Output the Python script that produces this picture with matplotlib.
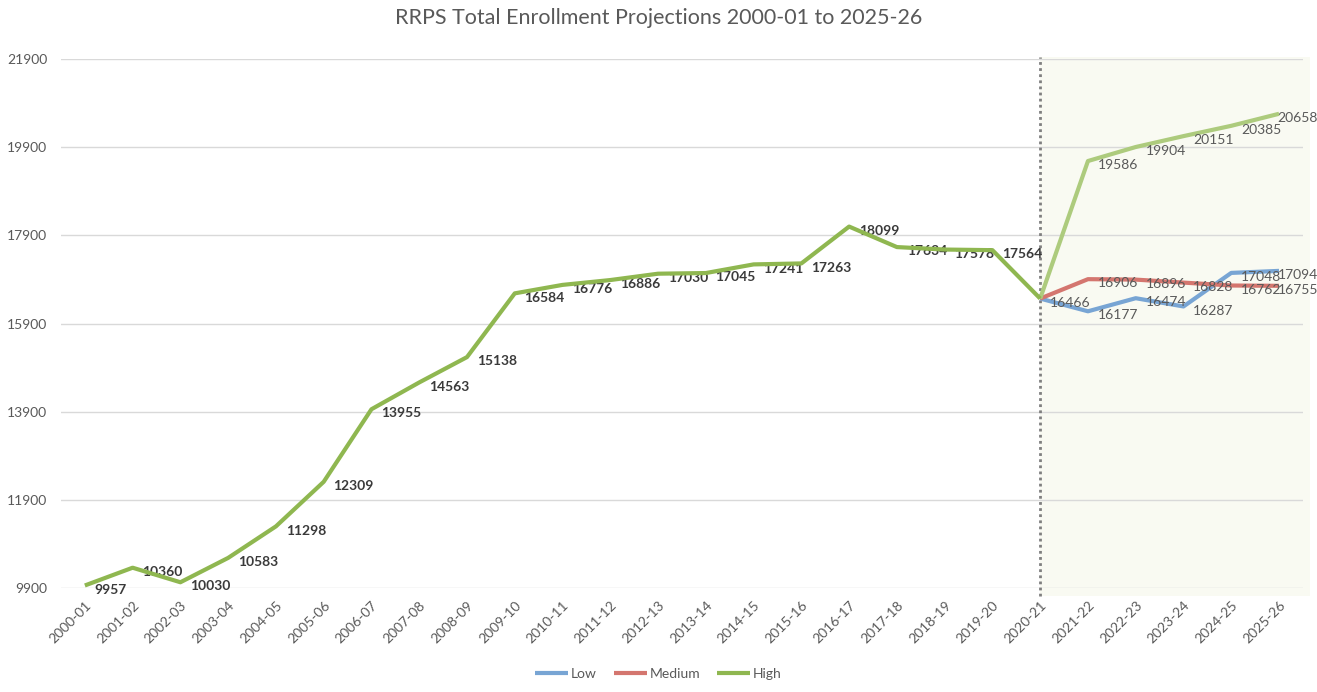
import matplotlib
matplotlib.use('Agg')
import matplotlib.pyplot as plt
from matplotlib.patches import Rectangle

plt.rcParams['font.family'] = ['Lato', 'DejaVu Sans']

seasons = ['2000-01', '2001-02', '2002-03', '2003-04', '2004-05', '2005-06', '2006-07',
           '2007-08', '2008-09', '2009-10', '2010-11', '2011-12', '2012-13', '2013-14',
           '2014-15', '2015-16', '2016-17', '2017-18', '2018-19', '2019-20', '2020-21',
           '2021-22', '2022-23', '2023-24', '2024-25', '2025-26']

# actual enrollment 2000-01 .. 2020-21
actual = [9957, 10360, 10030, 10583, 11298, 12309, 13955, 14563, 15138, 16584, 16776,
          16886, 17030, 17045, 17241, 17263, 18099, 17634, 17578, 17564, 16466]

# projections 2020-21 .. 2025-26
low = [16466, 16177, 16474, 16287, 17048, 17094]
medium = [16466, 16906, 16896, 16828, 16762, 16755]
high = [16466, 19586, 19904, 20151, 20385, 20658]

yticks = [9900, 11900, 13900, 15900, 17900, 19900, 21900]

c_low = '#78a5d4'
c_med = '#d4766f'
c_high = '#8fb750'
c_high_proj = '#adcb7d'
grey = '#595959'

fig = plt.figure(figsize=(13.17, 6.92), dpi=100)
ax = fig.add_axes([0.0463, 0.1503, 0.943, 0.7644])

n_hist = len(actual)
x_hist = list(range(n_hist))
x_proj = list(range(n_hist - 1, n_hist - 1 + len(low)))

# projection period background + divider
ax.add_patch(Rectangle((x_proj[0], 9720), 25.65 - x_proj[0], 21950 - 9720,
                       facecolor='#f9faf2', edgecolor='none', zorder=0, clip_on=False))
ax.plot([x_proj[0], x_proj[0]], [9720, 21950], color='#7f7f7f', lw=2,
        linestyle=(0, (1, 1.2)), zorder=1, clip_on=False)

ax.plot(x_proj, low, color=c_low, lw=3, label='Low', zorder=3, solid_capstyle='butt')
ax.plot(x_proj, medium, color=c_med, lw=3, label='Medium', zorder=3, solid_capstyle='butt')
ax.plot(x_proj, high, color=c_high_proj, lw=3, zorder=3, solid_capstyle='butt')
ax.plot(x_hist, actual, color=c_high, lw=3, label='High', zorder=4, solid_capstyle='butt')

# data labels
for x, v in zip(x_hist[:-1], actual[:-1]):
    ax.annotate(str(v), (x, v), xytext=(7, -3), textcoords='offset points',
                ha='left', va='center', fontsize=10, fontweight='bold', color='#3a3a3a')
last = x_proj[-1]
for series, skip in ((low, 0), (medium, 1), (high, 1)):
    for x, v in list(zip(x_proj, series))[skip:]:
        # labels on the last point are pulled back inside the chart area
        dx = -1 if x == last else 7
        ax.annotate(str(v), (x, v), xytext=(dx, -3), textcoords='offset points',
                    ha='left', va='center', fontsize=10, color=grey)

ax.set_xlim(-0.5, len(seasons) - 0.5)
ax.set_ylim(9900, 21900)
ax.set_yticks(yticks)
ax.set_yticklabels([str(t) for t in yticks], color=grey, fontsize=10)
ax.set_xticks(range(len(seasons)))
ax.set_xticklabels(seasons, rotation=45, ha='right', rotation_mode='anchor',
                   color=grey, fontsize=10)
ax.tick_params(axis='x', length=0, pad=8)
ax.tick_params(axis='y', length=0, pad=10)
ax.grid(axis='y', color='#d9d9d9', lw=1)
ax.set_axisbelow(True)
for s in ax.spines.values():
    s.set_visible(False)
ax.set_facecolor('none')

fig.suptitle('RRPS Total Enrollment Projections 2000-01 to 2025-26', x=0.5, y=0.988,
             va='top', fontsize=15.5, color=grey)

fig.legend(loc='lower center', bbox_to_anchor=(0.5, 0.0), ncol=3, frameon=False,
           fontsize=10, handlelength=2.4, handletextpad=0.2, columnspacing=1.2,
           labelcolor=grey)

plt.savefig('out.png', dpi=100)
